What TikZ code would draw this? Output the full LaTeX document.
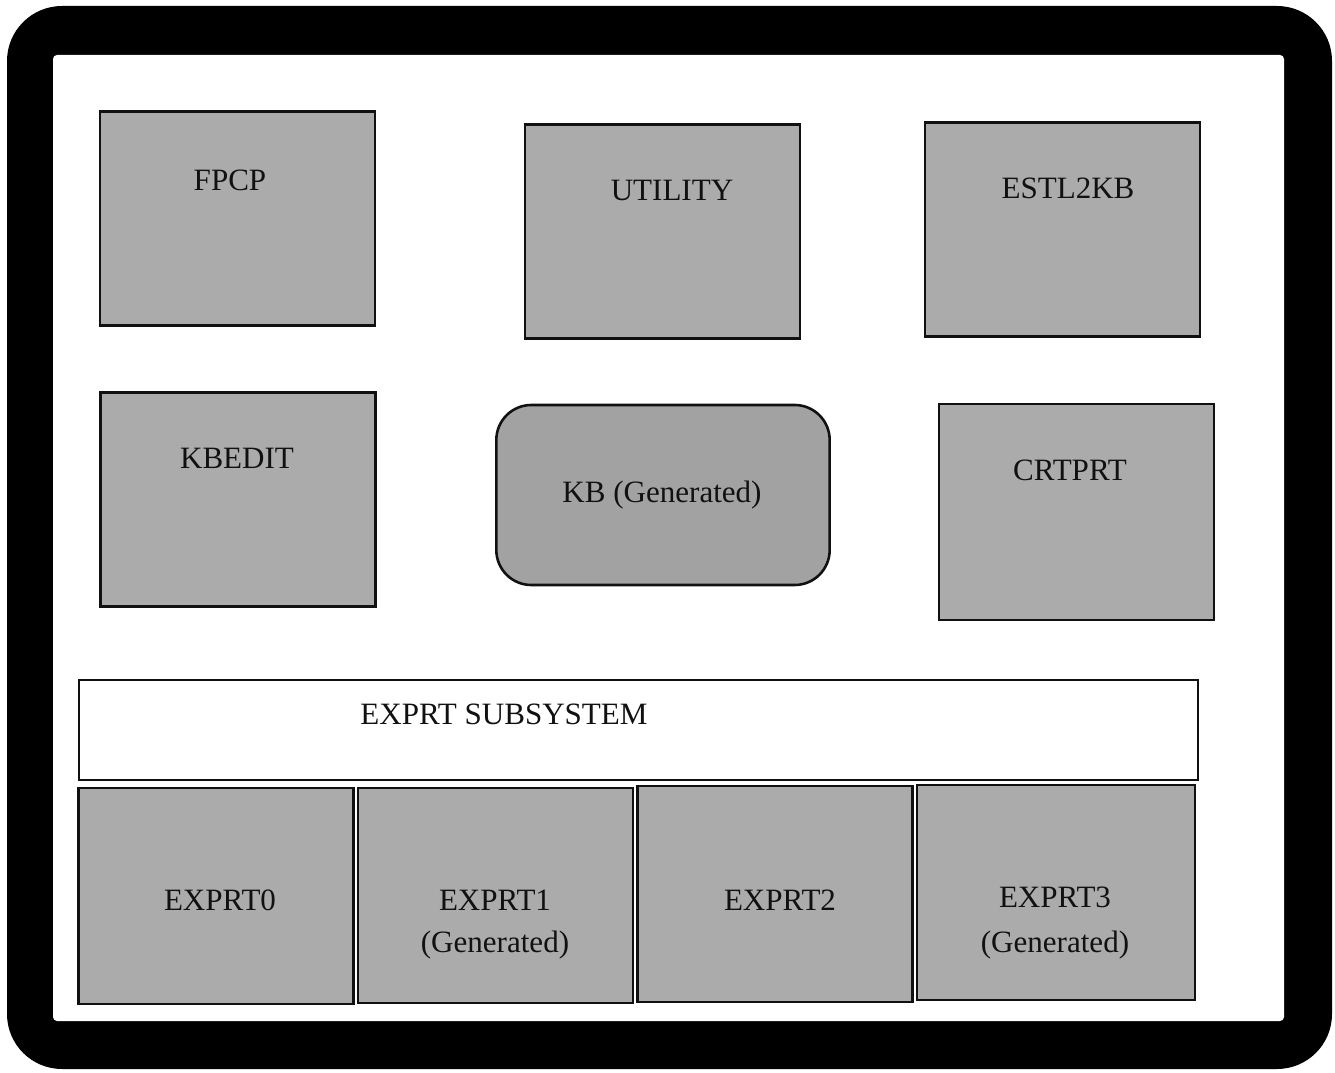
\documentclass[tikz,border=0pt]{standalone}
\usepackage{fontspec}
\setmainfont{Liberation Serif}
\usepackage{tikz}
\usetikzlibrary{positioning,calc}
\definecolor{shade}{HTML}{ABABAB}
\definecolor{shadeKB}{HTML}{A2A2A2}
\definecolor{ink}{HTML}{111111}

\begin{document}
\begin{tikzpicture}[
    x=0.03cm, y=-0.03cm,
    font=\fontsize{26.5}{31}\selectfont,
    module/.style={rectangle, draw=ink, fill=shade, line width=1.8pt,
                   minimum width=8.25cm, minimum height=6.42cm, inner sep=0pt},
    kbbox/.style={rectangle, rounded corners=1.05cm, draw=ink, fill=shadeKB, line width=2.2pt,
                  minimum width=10.0cm, minimum height=5.4cm, inner sep=0pt},
    subsys/.style={rectangle, draw=ink, fill=white, line width=1.8pt,
                   minimum width=33.57cm, minimum height=3.0cm, inner sep=0pt},
    lbl/.style={text=ink, align=center, inner sep=1pt}
  ]
\useasboundingbox (0,0) rectangle (1335,1073);

% ---------------- frame ----------------
\fill[black, rounded corners=1.65cm] (7,6) rectangle (1332,1069);
\fill[white, rounded corners=0.12cm] (53,55) rectangle (1284,1021);

% ---------------- upper modules ----------------
\node[module] (fpcp)    at (237.5,218.5) {};
\node[module] (utility) at (662.5,231.5) {};
\node[module] (estl)    at (1062.5,229.5) {};

\node[module] (kbedit)  at (238,499.5) {};
\node[kbbox]  (kb)      at (663,495) {};
\node[module, minimum height=6.48cm] (crtprt) at (1076.5,512) {};

% ---------------- expert subsystem ----------------
\node[subsys] (sub) at (638.5,730) {};
\node[module, minimum height=6.48cm] (ex0) at (216,896) {};
\node[module, minimum height=6.45cm] (ex1) at (495.5,895.5) {};
\node[module, minimum height=6.48cm] (ex2) at (775,894) {};
\node[module, minimum width=8.34cm, minimum height=6.45cm] (ex3) at (1056,892.5) {};

% ---------------- labels ----------------
\node[lbl] (fpcpL)    at (230,180)  {FPCP};
\node[lbl] (utilityL) at (672,190)  {UTILITY};
\node[lbl] (estlL)    at (1068,188) {ESTL2KB};
\node[lbl] (kbeditL)  at (237,458)  {KBEDIT};
\node[lbl] (kbL)      at (662,495)  {KB (Generated)};
\node[lbl] (crtprtL)  at (1070,470) {CRTPRT};
\node[lbl] (subL)     at (504,714)  {EXPRT SUBSYSTEM};

\node[lbl] (ex0L)  at (220,900)  {EXPRT0};
\node[lbl] (ex1L)  at (495,900)  {EXPRT1};
\node[lbl] (ex1G)  at (495,945)  {(Generated)};
\node[lbl] (ex2L)  at (780,900)  {EXPRT2};
\node[lbl] (ex3L)  at (1055,897) {EXPRT3};
\node[lbl] (ex3G)  at (1055,945) {(Generated)};

\end{tikzpicture}
\end{document}
